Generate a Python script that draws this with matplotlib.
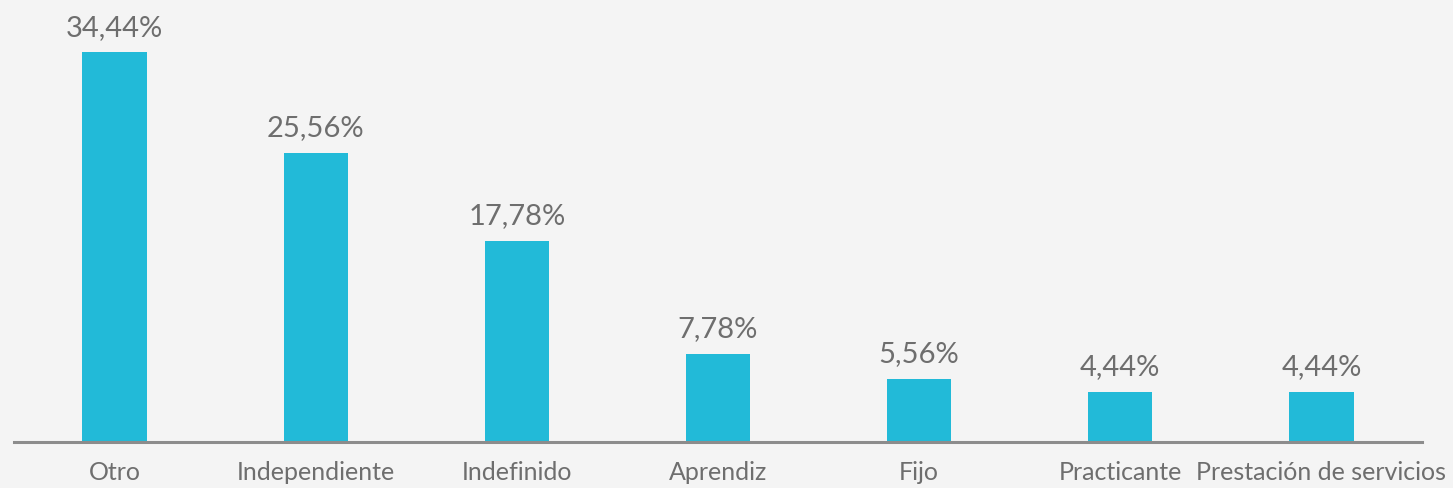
import matplotlib
matplotlib.use("Agg")
import matplotlib.pyplot as plt

categories = ["Otro", "Independiente", "Indefinido", "Aprendiz", "Fijo", "Practicante", "Prestación de servicios"]
values = [34.44, 25.56, 17.78, 7.78, 5.56, 4.44, 4.44]
value_labels = ["34,44%", "25,56%", "17,78%", "7,78%", "5,56%", "4,44%", "4,44%"]

bg = "#f4f4f4"
fig = plt.figure(figsize=(14.53, 4.89), dpi=100, facecolor=bg)
ax = fig.add_axes([14/1453, 1 - 443/489, (1422 - 14)/1453, 443/489])
ax.set_facecolor(bg)
x = range(len(categories))
ax.bar(x, values, width=0.32, color="#22bad8", zorder=2)
ax.set_xlim(-0.5, 6.5)
ax.set_ylim(0, 443/11.32)
for xi, v, lab in zip(x, values, value_labels):
    ax.text(xi, v + 1.55, lab, ha="center", va="baseline", fontsize=21, color="#6e6e6e", family="Lato")
for s in ["top", "right", "left"]:
    ax.spines[s].set_visible(False)
ax.spines["bottom"].set_color("#8c8c8c")
ax.spines["bottom"].set_linewidth(2.2)
ax.set_yticks([])
ax.set_xticks(list(x))
ax.set_xticklabels(categories, fontsize=18, color="#6e6e6e", family="Lato")
ax.tick_params(axis="x", length=0, pad=13)
fig.savefig("out.png", dpi=100, facecolor=bg)
